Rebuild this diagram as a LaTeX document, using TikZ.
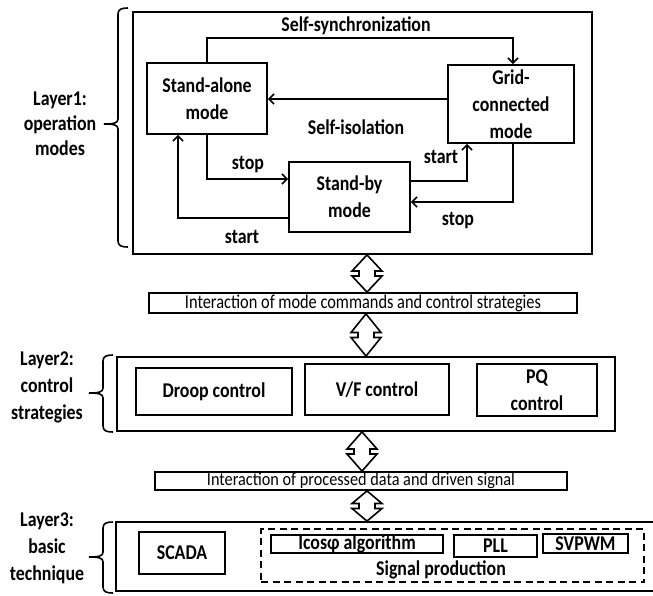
\documentclass[tikz,border=0pt]{standalone}
\usepackage{fontspec}
\setmainfont{Carlito}[FakeStretch=0.85]
\usetikzlibrary{arrows.meta,calc}
\newcommand\lbr[4]{%
 \draw[line width=1.6pt] (#1,#2) .. controls ({#1-6},#2) and ({#1-10},{#2+1}) .. ({#1-10},{#2+6}) -- ({#1-10},{#4-5}) .. controls ({#1-10},{#4-1}) and ({#1-14},#4) .. ({#1-24},#4) .. controls ({#1-14},#4) and ({#1-10},{#4+1}) .. ({#1-10},{#4+5}) -- ({#1-10},{#3-6}) .. controls ({#1-10},{#3-1}) and ({#1-6},#3) .. (#1,#3);}
\newcommand\dblarr[3]{%
 \draw[dbl] let \p1=(#1.south), \p2=(#2.north), \n1={(\y1+\y2)/2} in
 (#3pt,\y1) -- ({#3pt-15pt},{\n1+2.5pt}) -- ({#3pt-8pt},{\n1+2.5pt}) -- ({#3pt-8pt},{\n1-2.5pt}) -- ({#3pt-15pt},{\n1-2.5pt}) -- (#3pt,\y2) -- ({#3pt+15pt},{\n1-2.5pt}) -- ({#3pt+8pt},{\n1-2.5pt}) -- ({#3pt+8pt},{\n1+2.5pt}) -- ({#3pt+15pt},{\n1+2.5pt}) -- cycle;}
\begin{document}
\begin{tikzpicture}[x=1pt,y=-1pt,
  txt/.style={font=\bfseries\fontsize{21}{27}\selectfont, inner sep=0pt, align=center},
  box/.style={draw, line width=1.8pt, inner sep=0pt, align=center, font=\bfseries\fontsize{21}{27}\selectfont},
  ibox/.style={draw, line width=1.8pt, inner sep=0pt},
  arr/.style={line width=1.6pt, -{Straight Barb[length=5pt,width=10pt]}},
  dbl/.style={draw, line width=1.6pt, fill=white, line join=miter}]
\useasboundingbox (0,0) rectangle (653,595);
\clip (0,0) rectangle (653,595);
\fill[white] (0,0) rectangle (653,595);

% Layer 1
\node[ibox, minimum width=459pt, minimum height=242pt] (L1) at (362.5,133) {};
\node[box, minimum width=120pt, minimum height=71pt] (SA) at (207,98.5) {Stand-alone\\mode};
\node[box, minimum width=126pt, minimum height=78pt] (GC) at (511,104) {Grid-\\connected\\mode};
\node[box, minimum width=121pt, minimum height=70pt] (SB) at (349.5,197) {Stand-by\\mode};

\draw[arr] (SA.north) -- ++(0,-24) -| ([xshift=2pt]GC.north);
\draw[arr] ([yshift=5pt]GC.west) -- ([yshift=5pt]GC.west -| SA.east);
\draw[arr] (SA.south) |- ([yshift=18pt]SB.west);
\draw[arr] ([yshift=-21pt]SB.west) -| ([xshift=-29pt]SA.south);
\draw[arr] ([yshift=16pt]SB.east) -| ([xshift=-44pt]GC.south);
\draw[arr] ([xshift=2pt]GC.south) |- ([yshift=-5pt]SB.east);

\node[txt] (tsync) at (356,26) {Self-synchronization};
\node[txt] (tiso) at (356,127) {Self-isolation};
\node[txt] (tstop1) at (248,165) {stop};
\node[txt] (tstart1) at (242,237) {start};
\node[txt] (tstart2) at (441,157) {start};
\node[txt] (tstop2) at (458,221) {stop};

\node[txt, font=\bfseries\fontsize{21}{25}\selectfont] (lab1) at (60,124) {Layer1:\\operation\\modes};
\lbr{128}{8}{247}{124}

% interaction 1
\node[ibox, minimum width=428pt, minimum height=20pt] (I1) at (363,303) {\resizebox*{356pt}{17pt}{Interaction of mode commands and control strategies}};

% Layer 2
\node[ibox, minimum width=498pt, minimum height=74pt] (L2) at (366,394) {};
\node[box, minimum width=156pt, minimum height=47pt] (DC) at (214,391.5) {Droop control};
\node[box, minimum width=144pt, minimum height=51pt] (VF) at (377,389.5) {V/F control};
\node[box, minimum width=120pt, minimum height=52pt] (PQ) at (537,390) {PQ\\control};
\node[txt] (lab2) at (47,387) {Layer2:\\control\\strategies};
\lbr{113}{355}{432}{393}

% interaction 2
\node[ibox, minimum width=412pt, minimum height=18pt] (I2) at (361,481) {\resizebox*{308pt}{16pt}{Interaction of processed data and driven signal}};

% Layer 3
\node[ibox, minimum width=544pt, minimum height=69pt] (L3) at (388,556.5) {};
\node[box, minimum width=86pt, minimum height=42pt] (SC) at (182,553) {SCADA};
\node[draw, line width=1.8pt, dash pattern=on 7pt off 4.5pt, minimum width=383pt, minimum height=53pt, inner sep=0pt] (SP) at (452.5,555.5) {};
\node[box, minimum width=172pt, minimum height=18pt] (IC) at (357,544) {Icosφ algorithm};
\node[box, minimum width=83pt, minimum height=22pt] (PLL) at (495.5,546) {PLL};
\node[box, minimum width=85pt, minimum height=19pt] (SV) at (585.5,543.5) {SVPWM};
\node[txt] (tsp) at (441,570) {Signal production};
\node[txt] (lab3) at (47,548) {Layer3:\\basic\\technique};
\lbr{113}{522}{593}{557}

% double arrows
\dblarr{L1}{I1}{367}
\dblarr{I1}{L2}{366}
\dblarr{L2}{I2}{362}
\dblarr{I2}{L3}{367}
\end{tikzpicture}
\end{document}
